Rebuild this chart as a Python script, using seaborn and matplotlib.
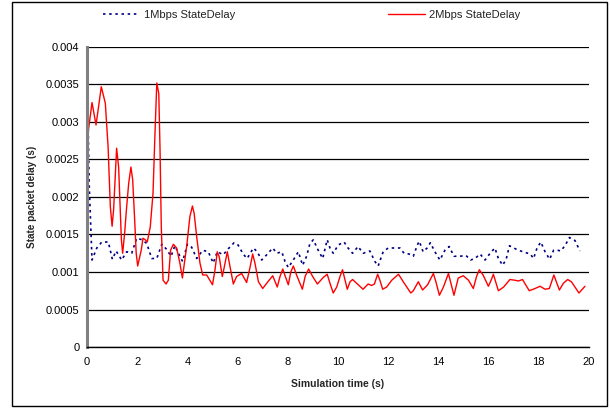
import matplotlib
matplotlib.use("Agg")
import matplotlib.pyplot as plt
import matplotlib.patches as mpatches
import seaborn as sns
import pandas as pd

# ---- data ----
t_1mbps = [0.0, 0.09, 0.2, 0.39, 0.59, 0.85, 1.01, 1.16, 1.38, 1.58, 1.78, 1.98, 2.2, 2.38,
           2.58, 2.78, 2.98, 3.15, 3.35, 3.5, 3.7, 3.81, 4.0, 4.17, 4.37, 4.61, 4.83, 5.03,
           5.19, 5.43, 5.63, 5.86, 6.02, 6.22, 6.38, 6.63, 6.78, 6.96, 7.16, 7.4, 7.56, 7.76,
           7.89, 8.02, 8.22, 8.42, 8.59, 8.75, 8.88, 9.02, 9.18, 9.39, 9.57, 9.68, 9.81,
           10.01, 10.24, 10.4, 10.58, 10.8, 11.0, 11.27, 11.47, 11.6, 11.8, 12.0, 12.2, 12.47,
           12.63, 12.83, 13.0, 13.16, 13.24, 13.39, 13.55, 13.68, 13.86, 14.06, 14.26, 14.43,
           14.62, 14.86, 15.1, 15.28, 15.46, 15.66, 15.86, 16.06, 16.25, 16.39, 16.56, 16.7,
           16.83, 17.0, 17.19, 17.46, 17.66, 17.79, 17.93, 18.08, 18.25, 18.43, 18.59, 18.75,
           18.88, 19.06, 19.22, 19.44, 19.64]
d_1mbps = [0.0038, 0.00214, 0.00116, 0.00132, 0.0014, 0.0014, 0.00117, 0.00128, 0.00116,
           0.00127, 0.00125, 0.00145, 0.00143, 0.00138, 0.00118, 0.00118, 0.00137, 0.00131,
           0.00121, 0.00135, 0.00121, 0.00114, 0.00137, 0.00133, 0.00118, 0.00129, 0.00127,
           0.00112, 0.00127, 0.00123, 0.00131, 0.00139, 0.00136, 0.00124, 0.00118, 0.00132,
           0.00127, 0.00116, 0.00123, 0.00132, 0.00125, 0.00127, 0.00114, 0.00106, 0.00116,
           0.00127, 0.00109, 0.00121, 0.00138, 0.00143, 0.00131, 0.00118, 0.00143, 0.00132,
           0.00125, 0.00136, 0.0014, 0.00132, 0.00125, 0.00134, 0.00125, 0.00128, 0.00114,
           0.00108, 0.00127, 0.00132, 0.00132, 0.00132, 0.00125, 0.00124, 0.00121, 0.00136,
           0.00141, 0.00127, 0.00132, 0.00139, 0.00127, 0.00116, 0.00129, 0.00134, 0.00121,
           0.00121, 0.00122, 0.00116, 0.00118, 0.00124, 0.00116, 0.00125, 0.00132, 0.00118,
           0.00109, 0.00117, 0.00135, 0.00132, 0.00129, 0.00126, 0.00124, 0.00118, 0.00132,
           0.0014, 0.00127, 0.00117, 0.00129, 0.00129, 0.00128, 0.00136, 0.00146, 0.00142,
           0.00128]

t_2mbps = [0.0, 0.2, 0.36, 0.57, 0.73, 0.84, 0.93, 1.0, 1.06, 1.18, 1.26, 1.37, 1.42, 1.5,
           1.57, 1.66, 1.75, 1.82, 1.9, 1.96, 2.02, 2.16, 2.23, 2.32, 2.4, 2.52, 2.63, 2.7,
           2.78, 2.86, 2.91, 2.96, 3.03, 3.15, 3.24, 3.33, 3.44, 3.57, 3.7, 3.8, 3.88, 3.97,
           4.1, 4.2, 4.27, 4.37, 4.5, 4.61, 4.77, 5.0, 5.1, 5.19, 5.27, 5.39, 5.46, 5.59,
           5.67, 5.83, 5.96, 6.16, 6.36, 6.5, 6.6, 6.69, 6.83, 7.0, 7.16, 7.4, 7.58, 7.69,
           7.8, 7.88, 8.02, 8.12, 8.22, 8.35, 8.58, 8.69, 8.83, 8.99, 9.18, 9.42, 9.57, 9.68,
           9.81, 9.95, 10.08, 10.18, 10.28, 10.37, 10.48, 10.58, 10.74, 11.0, 11.2, 11.34,
           11.45, 11.58, 11.67, 11.78, 11.94, 12.14, 12.41, 12.6, 12.9, 13.0, 13.2, 13.37,
           13.57, 13.8, 13.9, 14.04, 14.2, 14.4, 14.5, 14.62, 14.79, 14.99, 15.2, 15.39,
           15.52, 15.63, 15.78, 15.99, 16.1, 16.19, 16.3, 16.39, 16.6, 16.85, 17.05, 17.19,
           17.35, 17.62, 17.85, 18.05, 18.25, 18.42, 18.6, 18.7, 18.82, 18.98, 19.15, 19.3,
           19.6, 19.84]
d_2mbps = [0.00274, 0.00326, 0.00296, 0.00347, 0.00325, 0.00267, 0.00187, 0.00161, 0.00183,
           0.00265, 0.0024, 0.00143, 0.00125, 0.00152, 0.00183, 0.00218, 0.0024, 0.00223,
           0.00169, 0.00125, 0.00108, 0.00129, 0.00145, 0.00143, 0.0014, 0.0016, 0.00205,
           0.00276, 0.00352, 0.00338, 0.00263, 0.0016, 0.00089, 0.00084, 0.00089, 0.00129,
           0.00137, 0.00132, 0.00112, 0.00092, 0.00112, 0.00134, 0.00174, 0.00188, 0.00178,
           0.00147, 0.00112, 0.00096, 0.00096, 0.00083, 0.00103, 0.00127, 0.0012, 0.00094,
           0.00105, 0.00127, 0.00112, 0.00084, 0.00094, 0.00098, 0.00086, 0.00107, 0.00124,
           0.00112, 0.00087, 0.00078, 0.00085, 0.00095, 0.0008, 0.00094, 0.00104, 0.00096,
           0.00083, 0.001, 0.00108, 0.00096, 0.00077, 0.00094, 0.00104, 0.00094, 0.00084,
           0.00093, 0.00097, 0.00085, 0.00072, 0.0008, 0.00094, 0.00103, 0.00089, 0.00077,
           0.00087, 0.0009, 0.00085, 0.00077, 0.00084, 0.00082, 0.00084, 0.00097, 0.00089,
           0.00077, 0.0008, 0.00089, 0.00097, 0.00087, 0.00072, 0.00075, 0.00087, 0.00076,
           0.00083, 0.00098, 0.00087, 0.00069, 0.0008, 0.00098, 0.00085, 0.00069, 0.00092,
           0.00095, 0.00089, 0.00078, 0.00094, 0.00103, 0.00096, 0.00081, 0.00089, 0.00097,
           0.00085, 0.00075, 0.0008, 0.0009, 0.00089, 0.00088, 0.0009, 0.00075, 0.00078,
           0.00081, 0.00077, 0.00078, 0.00096, 0.00087, 0.00076, 0.00085, 0.0009, 0.00087,
           0.00072, 0.00081]

x_ticks = [0, 2, 4, 6, 8, 10, 12, 14, 16, 18, 20]
y_ticks = [0, 0.0005, 0.001, 0.0015, 0.002, 0.0025, 0.003, 0.0035, 0.004]
y_tick_labels = ["0", "0.0005", "0.001", "0.0015", "0.002", "0.0025", "0.003", "0.0035", "0.004"]
label_1 = "1Mbps StateDelay"
label_2 = "2Mbps StateDelay"

df1 = pd.DataFrame({"t": t_1mbps, "d": d_1mbps})
df2 = pd.DataFrame({"t": t_2mbps, "d": d_2mbps})

sns.set_style("white")
plt.rcParams["font.family"] = ["Liberation Sans", "DejaVu Sans"]

fig = plt.figure(figsize=(6.10, 4.08), dpi=100)
ax = fig.add_axes([87 / 610, 1 - 347 / 408, (589 - 87) / 610, (347 - 47) / 408])

sns.lineplot(data=df1, x="t", y="d", ax=ax, color="#000080", linewidth=1.2,
             linestyle=(0, (1.5, 2.2)), label=label_1)
sns.lineplot(data=df2, x="t", y="d", ax=ax, color="#FF0000", linewidth=1.0,
             label=label_2)

ax.set_xlim(0, 20)
ax.set_ylim(0, 0.004)
ax.set_xticks(x_ticks)
ax.set_xticklabels([str(v) for v in x_ticks])
ax.set_yticks(y_ticks)
ax.set_yticklabels(y_tick_labels)
ax.yaxis.grid(True, color="black", linewidth=0.9)
ax.set_axisbelow(True)

for s in ["top", "right"]:
    ax.spines[s].set_visible(False)
ax.spines["left"].set_color("#808080")
ax.spines["left"].set_linewidth(2.2)
ax.spines["bottom"].set_color("black")
ax.spines["bottom"].set_linewidth(1.0)

ax.tick_params(axis="both", labelsize=8, colors="black", direction="inout",
               length=5, width=0.9, pad=3)
ax.tick_params(axis="x", pad=5)

ax.set_xlabel("Simulation time (s)", fontsize=7.5, fontweight="bold", labelpad=8)
ax.set_ylabel("State packet delay (s)", fontsize=7.2, fontweight="bold", labelpad=6)

leg = ax.legend(loc="center left", bbox_to_anchor=(103 / 610, 1 - 15 / 408),
                bbox_transform=fig.transFigure, ncol=2, frameon=False, fontsize=8,
                handlelength=3.3, handletextpad=0.35, columnspacing=13.8,
                borderpad=0, borderaxespad=0)
for txt in leg.get_texts():
    txt.set_color("#222222")

border = mpatches.Rectangle((12 / 610, 2 / 408), (607 - 12) / 610, (406 - 2) / 408,
                            transform=fig.transFigure, fill=False, edgecolor="black",
                            linewidth=1.0)
fig.patches.append(border)

fig.savefig("out.png", dpi=100)
